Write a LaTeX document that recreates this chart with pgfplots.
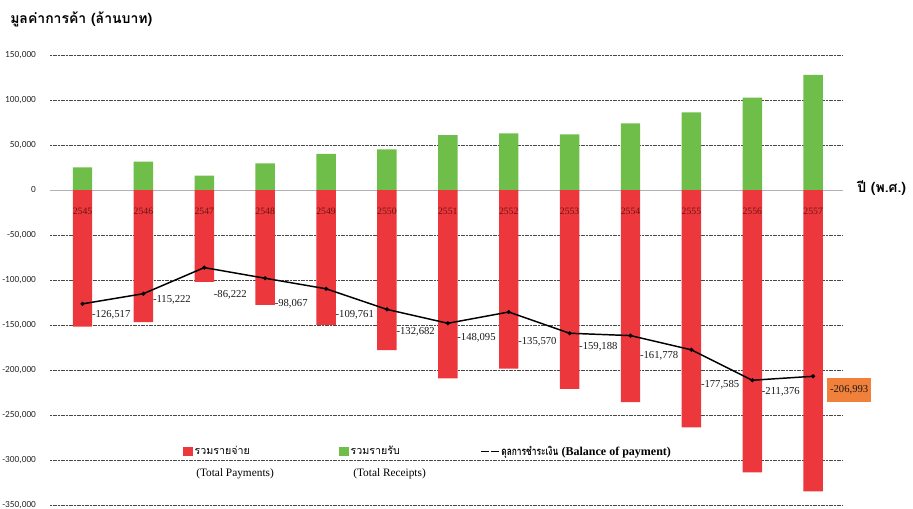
\documentclass[border=0pt]{standalone}
\usepackage{pgfplots}
\pgfplotsset{compat=1.18}
\usepackage{pgfplotstable}
\usepackage{graphicx}
\usepackage{fontspec}
\setmainfont{Liberation Serif}
\newfontfamily\thai[Script=Thai]{Loma}
\newfontfamily\tickfont{Carlito}

\definecolor{payred}{RGB}{236,56,60}
\definecolor{recgreen}{RGB}{112,190,74}
\definecolor{boxorange}{RGB}{240,128,58}
\definecolor{yeardark}{RGB}{110,18,18}

\pgfplotsset{
  sqlegend/.style={/pgfplots/legend image code/.code={%
    \fill[##1,/tikz/.cd] (0pt,-3.5pt) rectangle (7.5pt,3.5pt);}},
  linelegend/.style={/pgfplots/legend image code/.code={%
    \draw[black, line width=0.8pt, dash pattern=on 6pt off 1.5pt] (0pt,0pt) -- (14pt,0pt);}},
}

% trade value by Buddhist-era year (million baht)
% receipts: positive bars, payments: negative bars, balance: line
\pgfplotstableread{
x  year receipts payments balance laby    yl
0  2545 25200    -151717  -126517 -138900 -24100
1  2546 31500    -146722  -115222 -122200 -24100
2  2547 15900    -102122  -86222  -116700 -24100
3  2548 29600    -127667  -98067  -126700 -24100
4  2549 40000    -149761  -109761 -138900 -24100
5  2550 45200    -177882  -132682 -157800 -24100
6  2551 61100    -209195  -148095 -164400 -24100
7  2552 63000    -198570  -135570 -168900 -24100
8  2553 61900    -221088  -159188 -174400 -24100
9  2554 74000    -235778  -161778 -184400 -24100
10 2555 86300    -263885  -177585 -216700 -24100
11 2556 102500   -313876  -211376 -224400 -24100
12 2557 127800   -334793  -206993 -222200 -24100
}\trade

\begin{document}
\begin{tikzpicture}[x=1pt,y=1pt]
\useasboundingbox (0,0) rectangle (684.75,381.75);
\begin{axis}[
  at={(37.5pt,3pt)}, anchor=south west,
  scale only axis, width=594.75pt, height=337.5pt,
  xmin=-0.534, xmax=12.49, ymin=-350000, ymax=150000,
  clip=false,
  axis line style={draw=none},
  major tick length=0pt,
  xtick=\empty,
  ytick={-350000,-300000,-250000,-200000,-150000,-100000,-50000,50000,100000,150000},
  extra y ticks={0},
  extra y tick style={grid style={solid, draw=black!30, line width=0.7pt}},
  scaled y ticks=false,
  ymajorgrids,
  grid style={draw=black!72, line width=0.6pt, dash pattern=on 1.4pt off 0.6pt},
  yticklabel style={font=\tickfont\fontsize{7}{8}\selectfont, xshift=-7pt, text=black!85},
  /pgf/number format/.cd, 1000 sep={,}, assume math mode=true, fixed,
  /pgfplots/.cd,
  legend columns=3,
  legend cell align=left,
  legend style={at={(0.1677,0.1189)}, anchor=west, draw=none, fill=none,
    inner sep=0pt, column sep=0pt, row sep=0pt,
    nodes={inner xsep=1pt, inner ysep=0pt}},
]
% payments and receipts
\addplot[ybar, bar width=14.6pt, bar shift=0pt, fill=payred, draw=none, sqlegend]
  table[x=x, y=payments]{\trade};
\addlegendentry{\makebox[107.5pt][l]{\thai\fontsize{8}{9}\selectfont รวมรายจ่าย}}
\addplot[ybar, bar width=14.6pt, bar shift=0pt, fill=recgreen, draw=none, sqlegend]
  table[x=x, y=receipts]{\trade};
\addlegendentry{\makebox[96.25pt][l]{\thai\fontsize{8}{9}\selectfont รวมรายรับ}}
% balance of payment
\addplot[black, line width=1.1pt, mark=*, mark size=0.9pt,
  mark options={fill=red!20!white, draw=none}, linelegend]
  table[x=x, y=balance]{\trade};
\addlegendentry{\scalebox{0.74}[1]{\thai\bfseries\fontsize{8.5}{9}\selectfont ดุลการชำระเงิน} {\fontsize{9}{10}\selectfont\bfseries (Balance of payment)}}

% year labels on the bars
\addplot[forget plot, draw=none, mark=none, nodes near coords,
  point meta=explicit symbolic,
  nodes near coords style={anchor=center, inner sep=0pt, text=yeardark,
    font=\fontsize{7.3}{8}\selectfont}]
  table[x=x, y=yl, meta=year]{\trade};

% balance values
\addplot[forget plot, draw=none, mark=none, nodes near coords,
  point meta=explicit, skip coords between index={12}{13},
  nodes near coords style={anchor=west, xshift=6pt, inner sep=1pt,
    font=\fontsize{8}{9}\selectfont, text=black!90,
    /pgf/number format/.cd, 1000 sep={,}, fixed, assume math mode=true}]
  table[x=x, y=laby, meta=balance]{\trade};
\addplot[forget plot, draw=none, mark=none, nodes near coords,
  point meta=explicit, skip coords between index={0}{12},
  nodes near coords style={anchor=west, xshift=10.5pt, fill=boxorange,
    inner xsep=2pt, inner ysep=5.5pt, text=black!90,
    font=\fontsize{8}{9}\selectfont,
    /pgf/number format/.cd, 1000 sep={,}, fixed, assume math mode=true}]
  table[x=x, y=laby, meta=balance]{\trade};

% second line of the legend entries
\node[anchor=west, inner sep=0pt, font=\fontsize{8.5}{9}\selectfont]
  at (rel axis cs:0.1841,0.0689) {(Total Payments)};
\node[anchor=west, inner sep=0pt, font=\fontsize{8.5}{9}\selectfont]
  at (rel axis cs:0.3821,0.0689) {(Total Receipts)};
\end{axis}

\node[anchor=west, inner sep=0pt, font=\thai\bfseries\fontsize{10.5}{12}\selectfont]
  at (7.5,367) {มูลค่าการค้า (ล้านบาท)};
\node[anchor=west, inner sep=0pt, font=\thai\bfseries\fontsize{10.5}{12}\selectfont]
  at (642.75,240.75) {ปี (พ.ศ.)};
\end{tikzpicture}
\end{document}
